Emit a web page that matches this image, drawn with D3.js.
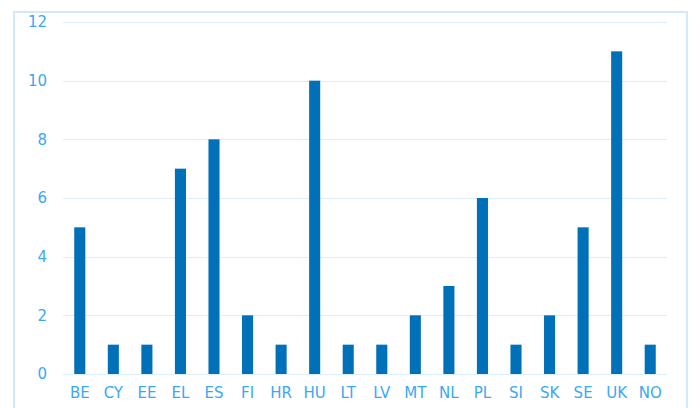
<!DOCTYPE html>
<html>
<head>
<meta charset="utf-8">
<script src="https://cdn.jsdelivr.net/npm/d3@7"></script>
<style>
  body { margin: 0; background: #fff; }
  .tick text { font-family: "DejaVu Sans", Verdana, sans-serif; font-size: 15px; fill: #3ba9f2; }
</style>
</head>
<body>
<div class="chart"></div>
<script>
const countries = ["BE", "CY", "EE", "EL", "ES", "FI", "HR", "HU", "LT", "LV", "MT", "NL", "PL", "SI", "SK", "SE", "UK", "NO"];
const counts = [5, 1, 1, 7, 8, 2, 1, 10, 1, 1, 2, 3, 6, 1, 2, 5, 11, 1];
const y_ticks = [0, 2, 4, 6, 8, 10, 12];

const full_width = 692;
const full_height = 408;
const margin = { top: 22, bottom: 34, left: 63, right: 25 };

const width = full_width - margin.left - margin.right;
const height = full_height - margin.top - margin.bottom;

const bar_color = "#0070b8";
const grid_color = "#dbeefb";
const frame_color = "#d3e9f9";

const data = countries.map(function(c, i) { return { code: c, value: counts[i] }; });

const root = d3.select('.chart')
    .append('svg')
    .attr('width', full_width)
    .attr('height', full_height);

// outer chart frame (bottom edge is cut off by the window)
root.append("rect")
    .attr("x", 14)
    .attr("y", 12)
    .attr("width", 673)
    .attr("height", 420)
    .attr("fill", "none")
    .attr("stroke", frame_color)
    .attr("stroke-width", 2);

const svg = root.append('g')
    .attr('transform', `translate(${margin.left},${margin.top})`);

// scales
var x_scale = d3.scaleBand()
    .domain(countries)
    .range([0, width])
    .paddingInner(0.67)
    .paddingOuter(0.335);

var y_scale = d3.scaleLinear()
    .domain([0, 12])
    .range([height, 0]);

// gridlines
svg.append("g")
    .selectAll("line")
    .data(y_ticks)
    .enter()
    .append("line")
    .attr("x1", 0)
    .attr("x2", width)
    .attr("y1", function(d) { return Math.round(y_scale(d)) + 0.5; })
    .attr("y2", function(d) { return Math.round(y_scale(d)) + 0.5; })
    .attr("stroke", grid_color)
    .attr("stroke-width", 1);

// y axis (labels only)
var y_axis = svg.append("g")
    .call(d3.axisLeft(y_scale).tickValues(y_ticks).tickSize(0).tickPadding(16));
y_axis.select(".domain").remove();

// x axis (labels only)
var x_axis = svg.append("g")
    .attr("transform", "translate(0," + height + ")")
    .call(d3.axisBottom(x_scale).tickSize(0).tickPadding(13));
x_axis.select(".domain").remove();

// bars
svg.selectAll("rect.bar")
    .data(data)
    .enter()
    .append("rect")
    .attr("class", "bar")
    .attr("x", function(d) { return x_scale(d.code); })
    .attr("width", x_scale.bandwidth())
    .attr("y", function(d) { return y_scale(d.value); })
    .attr("height", function(d) { return height - y_scale(d.value); })
    .attr("fill", bar_color);
</script>
</body>
</html>
